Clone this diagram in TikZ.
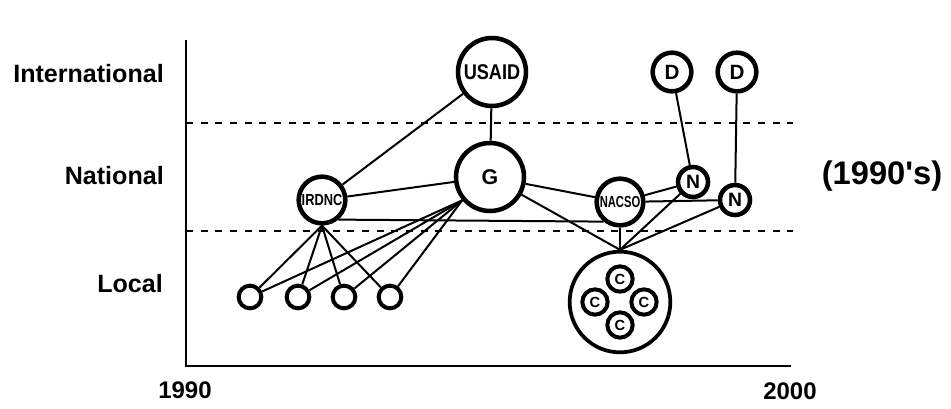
\documentclass[tikz,border=0pt]{standalone}
\usepackage{fontspec}
\usepackage{graphicx}
\setmainfont{Liberation Sans}
\begin{document}
\begin{tikzpicture}[x=0.75pt,y=-0.75pt,
  ent/.style={circle,draw,line width=3.4pt,fill=white,inner sep=0pt,font=\bfseries},
  big/.style={ent,minimum size=51pt,font=\fontsize{16}{17}\bfseries},
  mid/.style={ent,minimum size=35pt,font=\fontsize{12}{13}\bfseries},
  dnode/.style={ent,minimum size=29pt,font=\fontsize{15.5}{16}\bfseries},
  nnode/.style={ent,minimum size=22.5pt,font=\fontsize{14.5}{15}\bfseries},
  cnode/.style={ent,minimum size=19pt,line width=3pt,font=\fontsize{11}{12}\bfseries},
  lnode/.style={ent,minimum size=17pt,line width=3pt},
  grp/.style={ent,minimum size=75.5pt,line width=2.8pt},
  edge/.style={line width=1.5pt},
  level/.style={line width=1.8pt,dash pattern=on 5.3pt off 5.7pt},
  axis/.style={line width=2pt},
  lab/.style={font=\fontsize{18.8}{20}\bfseries,inner sep=0pt}
]
\useasboundingbox (0,0) rectangle (951,408);
% axes and levels
\coordinate (axtop) at (186,40);
\coordinate (axorig) at (186,366);
\coordinate (axright) at (791,366);
\draw[axis] (axtop) -- (axorig) -- (axright);
\coordinate (u1) at (186,123); \coordinate (u2) at (793,123);
\coordinate (l1) at (186,231); \coordinate (l2) at (793,231);
\draw[level] (u1) -- (u2);
\draw[level] (l1) -- (l2);
% labels
\node[lab,anchor=east] (intl) at (164,74) {International};
\node[lab,anchor=east] (natl) at (164,176) {National};
\node[lab,anchor=east] (locl) at (163,284) {Local};
\node[lab,font=\fontsize{18}{19}\bfseries] (y1990) at (185,390) {1990};
\node[lab,font=\fontsize{18}{19}\bfseries] (y2000) at (790,391) {2000};
\node[lab,font=\fontsize{24.5}{26}\bfseries] (dec) at (882,176) {(1990\textquotesingle s)};
% nodes
\node[big] (USAID) at (492,72) {\scalebox{0.85}[1]{USAID}};
\node[big] (G) at (490,177) {G};
\node[mid] (IRDNC) at (322,200) {\scalebox{0.8}[1]{IRDNC}};
\node[mid] (NACSO) at (620,202) {\scalebox{0.7}[1]{NACSO}};
\node[nnode] (N1) at (693,182) {N};
\node[nnode] (N2) at (735,200) {N};
\node[dnode] (D1) at (672,72) {D};
\node[dnode] (D2) at (737,72) {D};
\node[grp] (C) at (620,302) {};
\node[lnode] (L1) at (250,297) {};
\node[lnode] (L2) at (298,297) {};
\node[lnode] (L3) at (344,297) {};
\node[lnode] (L4) at (390,297) {};
% edges
\draw[edge] (USAID) -- (IRDNC);
\draw[edge] (USAID) -- (G);
\draw[edge] (IRDNC) -- (G);
\draw[edge] (IRDNC.-50) -- (NACSO.-130);
\draw[edge] (G) -- (NACSO);
\draw[edge] (G) -- (C.north);
\draw[edge] (NACSO) -- (C.north);
\draw[edge] (N1) -- (C.north);
\draw[edge] (N2) -- (C.north);
\draw[edge] (NACSO) -- (N1);
\draw[edge] (NACSO) -- (N2);
\draw[edge] (D1) -- (N1);
\draw[edge] (D2) -- (N2);
\foreach \l in {L1,L2,L3,L4} {
  \draw[edge] (IRDNC.south) -- (\l);
  \draw[edge] (G.220) -- (\l);
}
% inner community circles
\node[cnode] (c1) at (620,279) {C};
\node[cnode] (c2) at (595,302) {C};
\node[cnode] (c3) at (644,302) {C};
\node[cnode] (c4) at (620,325) {C};
\end{tikzpicture}
\end{document}
